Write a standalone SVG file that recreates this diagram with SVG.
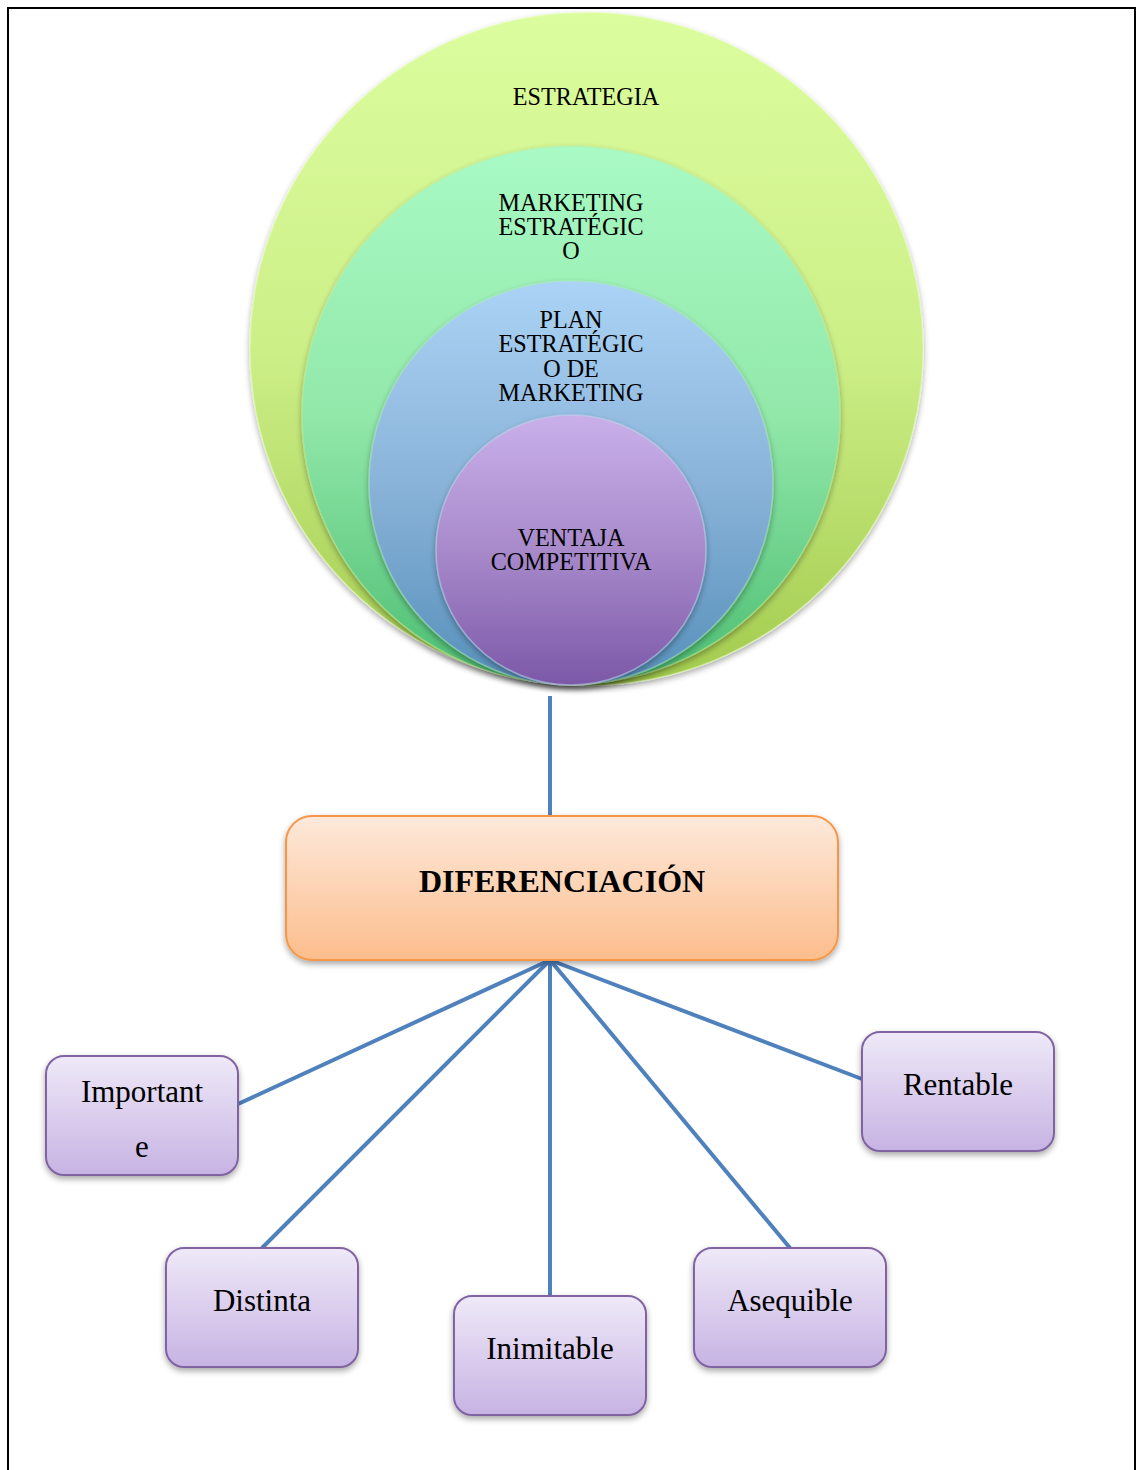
<svg xmlns="http://www.w3.org/2000/svg" width="1137" height="1470" viewBox="0 0 1137 1470">
<defs>
<linearGradient id="gOuter" x1="0" y1="0" x2="0" y2="1"><stop offset="0" stop-color="#dcfd9e"/><stop offset="0.5" stop-color="#cdef88"/><stop offset="1" stop-color="#a3cb4e"/></linearGradient>
<linearGradient id="gMkt" x1="0" y1="0" x2="0" y2="1"><stop offset="0" stop-color="#a9fac5"/><stop offset="0.5" stop-color="#92e8a9"/><stop offset="1" stop-color="#4cbd72"/></linearGradient>
<linearGradient id="gPlan" x1="0" y1="0" x2="0" y2="1"><stop offset="0" stop-color="#abd3f5"/><stop offset="0.5" stop-color="#8ab3d9"/><stop offset="1" stop-color="#5690ba"/></linearGradient>
<linearGradient id="gVent" x1="0" y1="0" x2="0" y2="1"><stop offset="0" stop-color="#c9b0ea"/><stop offset="0.5" stop-color="#a88acb"/><stop offset="1" stop-color="#7c58a8"/></linearGradient>
<linearGradient id="gOrange" x1="0" y1="0" x2="0" y2="1"><stop offset="0" stop-color="#fde9db"/><stop offset="1" stop-color="#fcbd8c"/></linearGradient>
<linearGradient id="gPurple" x1="0" y1="0" x2="0" y2="1"><stop offset="0" stop-color="#efe9f8"/><stop offset="1" stop-color="#c7b3e3"/></linearGradient>
<filter id="sh" x="-10%" y="-10%" width="120%" height="130%"><feGaussianBlur in="SourceAlpha" stdDeviation="3"/><feOffset dx="0" dy="3"/><feComponentTransfer><feFuncA type="linear" slope="0.35"/></feComponentTransfer><feMerge><feMergeNode/><feMergeNode in="SourceGraphic"/></feMerge></filter>
</defs>
<style>
.ctext{font-family:"Liberation Serif","Times New Roman",serif;font-size:26px;fill:#000;text-anchor:middle}
.btext{font-family:"Liberation Serif","Times New Roman",serif;font-size:31px;fill:#000;text-anchor:middle}
.main{font-family:"Liberation Serif","Times New Roman",serif;font-size:32px;font-weight:bold;fill:#000;text-anchor:middle}
.conn{stroke:#4f81bd;stroke-width:4;fill:none}
.pbox{fill:url(#gPurple);stroke:#8064a2;stroke-width:2}
.circ{stroke-width:1.5;stroke-opacity:0.5}
</style>
<rect width="1137" height="1470" fill="#fff"/>
<path d="M8,1470 V8 H1135 V1470" fill="none" stroke="#000" stroke-width="2"/>

<g id="estrategia">
<circle class="circ" cx="586.5" cy="349" r="336.5" fill="url(#gOuter)" stroke="#e6ffb8" filter="url(#sh)"/>
<text class="ctext" transform="translate(586,105) scale(0.93,1)">ESTRATEGIA</text>
</g>
<g id="marketing-estrategico">
<circle class="circ" cx="571" cy="415" r="269" fill="url(#gMkt)" stroke="#c0f0a0" filter="url(#sh)"/>
<text class="ctext" transform="translate(571,211) scale(0.93,1)">MARKETING</text>
<text class="ctext" transform="translate(571,235) scale(0.93,1)">ESTRATÉGIC</text>
<text class="ctext" transform="translate(571,259) scale(0.93,1)">O</text>
</g>
<g id="plan-estrategico">
<circle class="circ" cx="571" cy="483" r="202" fill="url(#gPlan)" stroke="#b0e8c8" filter="url(#sh)"/>
<text class="ctext" transform="translate(571,328) scale(0.93,1)">PLAN</text>
<text class="ctext" transform="translate(571,352) scale(0.93,1)">ESTRATÉGIC</text>
<text class="ctext" transform="translate(571,377) scale(0.93,1)">O DE</text>
<text class="ctext" transform="translate(571,401) scale(0.93,1)">MARKETING</text>
</g>
<g id="ventaja-competitiva">
<circle class="circ" cx="571" cy="550" r="135" fill="url(#gVent)" stroke="#c8d8f0" filter="url(#sh)"/>
<text class="ctext" transform="translate(571,546) scale(0.93,1)">VENTAJA</text>
<text class="ctext" transform="translate(571,570) scale(0.93,1)">COMPETITIVA</text>
</g>

<g id="connectors">
<line class="conn" x1="550" y1="696" x2="550" y2="816"/>
<line class="conn" x1="550" y1="960" x2="238" y2="1104"/>
<line class="conn" x1="550" y1="960" x2="262" y2="1248"/>
<line class="conn" x1="550" y1="960" x2="550" y2="1296"/>
<line class="conn" x1="550" y1="960" x2="790" y2="1248"/>
<line class="conn" x1="550" y1="960" x2="862" y2="1079"/>
</g>

<g id="diferenciacion">
<rect x="286" y="816" width="552" height="144" rx="26" fill="url(#gOrange)" stroke="#f79646" stroke-width="2" filter="url(#sh)"/>
<text class="main" x="562" y="892">DIFERENCIACIÓN</text>
</g>
<g id="importante">
<rect class="pbox" x="46" y="1056" width="192" height="119" rx="18" filter="url(#sh)"/>
<text class="btext" x="142" y="1102">Important</text>
<text class="btext" x="142" y="1157">e</text>
</g>
<g id="rentable">
<rect class="pbox" x="862" y="1032" width="192" height="119" rx="18" filter="url(#sh)"/>
<text class="btext" x="958" y="1095">Rentable</text>
</g>
<g id="distinta">
<rect class="pbox" x="166" y="1248" width="192" height="119" rx="18" filter="url(#sh)"/>
<text class="btext" x="262" y="1311">Distinta</text>
</g>
<g id="inimitable">
<rect class="pbox" x="454" y="1296" width="192" height="119" rx="18" filter="url(#sh)"/>
<text class="btext" x="550" y="1359">Inimitable</text>
</g>
<g id="asequible">
<rect class="pbox" x="694" y="1248" width="192" height="119" rx="18" filter="url(#sh)"/>
<text class="btext" x="790" y="1311">Asequible</text>
</g>
</svg>
